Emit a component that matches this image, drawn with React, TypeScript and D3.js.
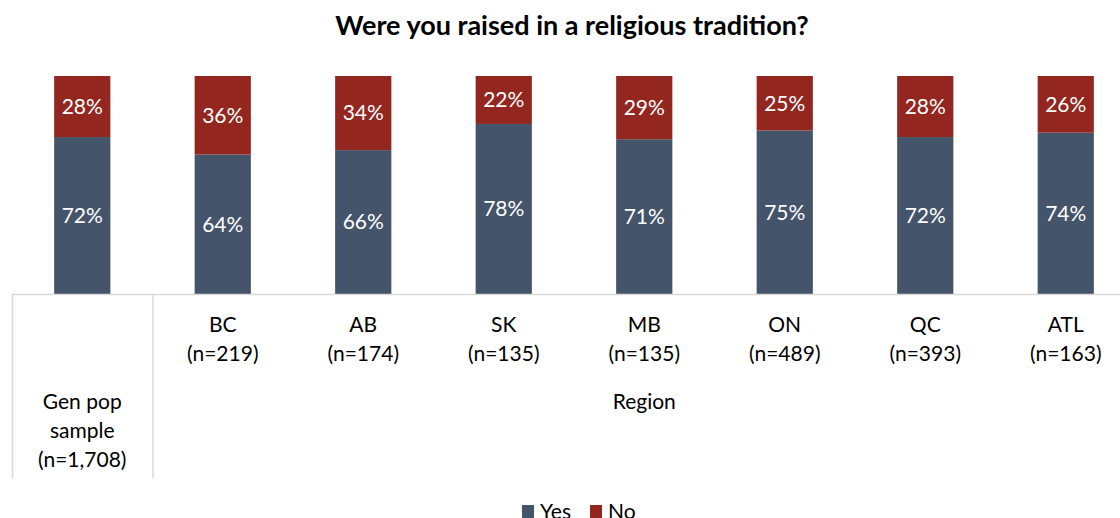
import React from "react";
import * as d3 from "d3";

const categories = ["Gen pop", "BC", "AB", "SK", "MB", "ON", "QC", "ATL"];
const catLabels: string[][] = [
  ["Gen pop", "sample", "(n=1,708)"],
  ["BC", "(n=219)"],
  ["AB", "(n=174)"],
  ["SK", "(n=135)"],
  ["MB", "(n=135)"],
  ["ON", "(n=489)"],
  ["QC", "(n=393)"],
  ["ATL", "(n=163)"],
];
const yesValues = [72, 64, 66, 78, 71, 75, 72, 74];
const noValues = [28, 36, 34, 22, 29, 25, 28, 26];
const seriesNames = ["Yes", "No"];
const groupLabel = "Region";
const title = "Were you raised in a religious tradition?";

const W = 1120;
const H = 518;
const FONT = "Lato, 'Open Sans', sans-serif";
const colors = ["#44546A", "#942620"];

export default function App() {
  const x = d3.scaleBand<string>().domain(categories).range([12, 12 + 8 * 140.5]).paddingInner(0.6).paddingOuter(0.3);
  const y = d3.scaleLinear().domain([0, 100]).range([294, 76]);
  const step = x.step();
  const left = 12;
  const bottom = 478;
  const gridColor = "#d9d9d9";
  const bw = x.bandwidth();

  return (
    <svg width={W} height={H} style={{ position: "absolute", left: 0, top: 0, display: "block" }} fontFamily={FONT}>
      <rect width={W} height={H} fill="#fff" />
      <text x={572} y={35} textAnchor="middle" fontSize={27} fontWeight="bold" fill="#000">{title}</text>
      {categories.map((c, i) => {
        const x0 = x(c)!;
        const yTop = y(yesValues[i]);
        const nTop = y(yesValues[i] + noValues[i]);
        return (
          <g key={c}>
            <rect x={x0} y={yTop} width={bw} height={y(0) - yTop} fill={colors[0]} />
            <rect x={x0} y={nTop} width={bw} height={yTop - nTop} fill={colors[1]} />
            <text x={x0 + bw / 2} y={(yTop + y(0)) / 2} dy="0.35em" textAnchor="middle" fontSize={21} fill="#fff">{yesValues[i]}%</text>
            <text x={x0 + bw / 2} y={(yTop + nTop) / 2} dy="0.35em" textAnchor="middle" fontSize={21} fill="#fff">{noValues[i]}%</text>
          </g>
        );
      })}
      <line x1={left} x2={W} y1={294.5} y2={294.5} stroke={gridColor} strokeWidth={1.5} />
      <line x1={left + 0.5} x2={left + 0.5} y1={294} y2={bottom} stroke={gridColor} strokeWidth={1.5} />
      <line x1={left + step + 0.5} x2={left + step + 0.5} y1={294} y2={bottom} stroke={gridColor} strokeWidth={1.5} />
      {categories.map((c, i) => {
        const cx = x(c)! + bw / 2;
        const lines = catLabels[i];
        const startY = i === 0 ? 409 : 332;
        return (
          <text key={c} textAnchor="middle" fontSize={21} fill="#000">
            {lines.map((l, j) => (
              <tspan key={j} x={cx} y={startY + j * 29}>{l}</tspan>
            ))}
          </text>
        );
      })}
      <text x={(left + step + 12 + 8 * 140.5) / 2} y={409} textAnchor="middle" fontSize={21} fill="#000">{groupLabel}</text>
      {seriesNames.map((s, i) => {
        const lx = i === 0 ? 522 : 590;
        return (
          <g key={s}>
            <rect x={lx} y={505} width={12} height={13} fill={colors[i]} />
            <text x={lx + 18} y={519} fontSize={21} fill="#000">{s}</text>
          </g>
        );
      })}
    </svg>
  );
}
